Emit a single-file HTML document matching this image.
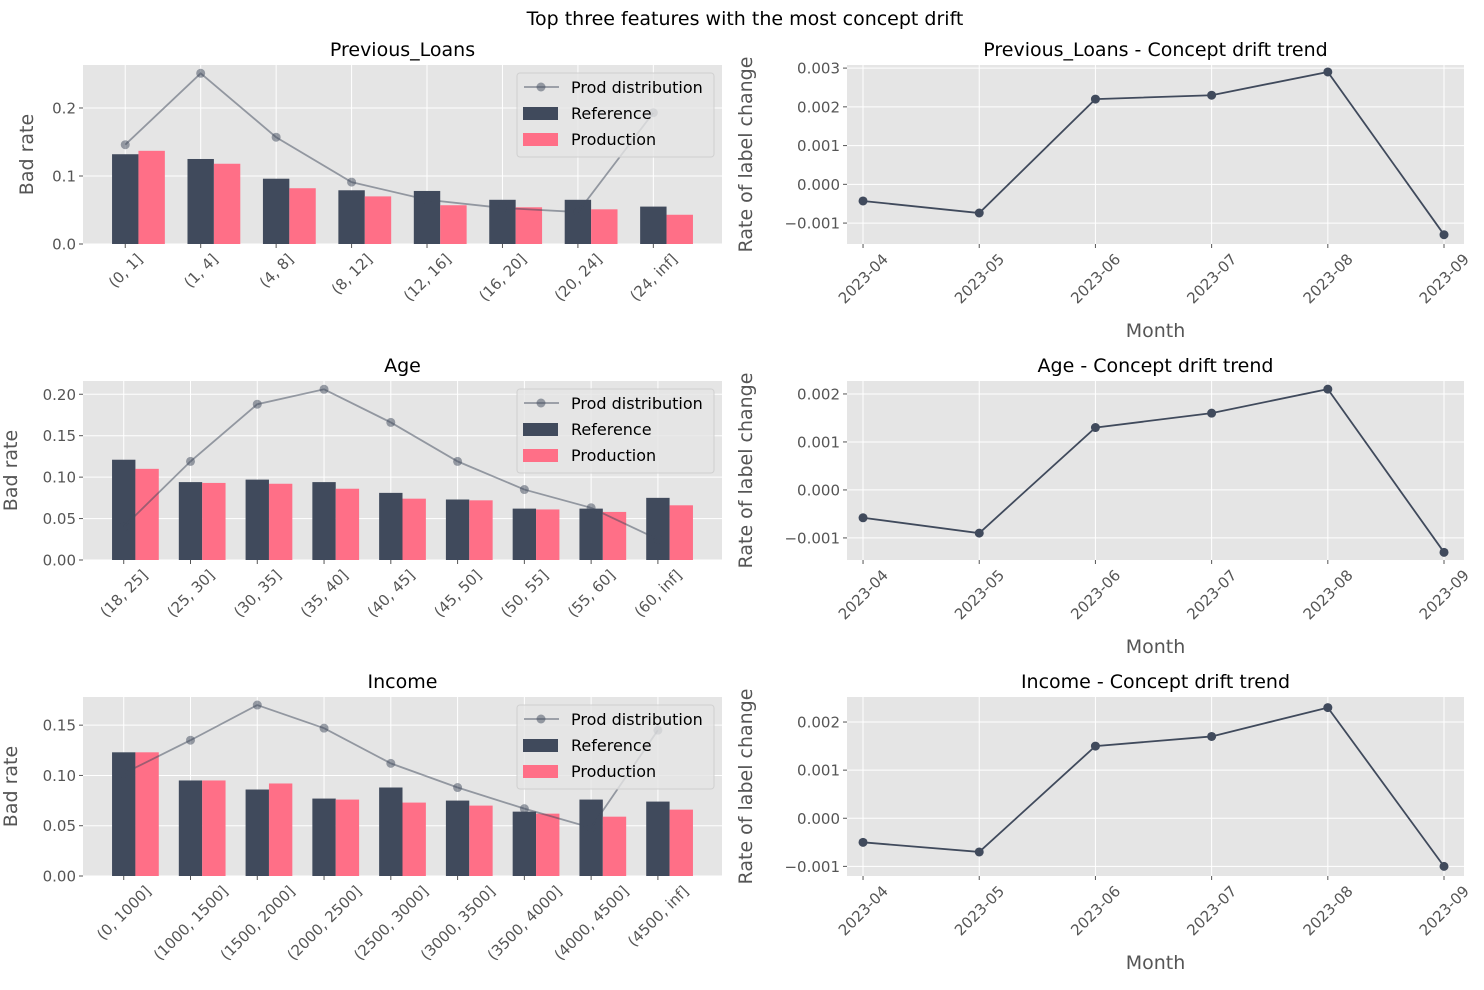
<!DOCTYPE html>
<html><head><meta charset="utf-8"><style>
body{margin:0;background:#fff;font-family:"Liberation Sans","DejaVu Sans",sans-serif}
svg text{font-family:"DejaVu Sans","Liberation Sans",sans-serif}
</style></head><body>
<svg id="fig" width="1484" height="985" viewBox="0 0 1484 985" xmlns="http://www.w3.org/2000/svg">
<text x="745" y="25" font-size="19" text-anchor="middle" fill="#000">Top three features with the most concept drift</text>
</svg>
<script>
const loanCats=["(0, 1]","(1, 4]","(4, 8]","(8, 12]","(12, 16]","(16, 20]","(20, 24]","(24, inf]"];
const loanRef=[0.132,0.125,0.096,0.079,0.078,0.065,0.065,0.055];
const loanProd=[0.137,0.118,0.082,0.070,0.057,0.054,0.051,0.043];
const loanDist=[0.146,0.251,0.157,0.091,0.065,0.053,0.047,0.193];
const loanTicks=[0.0,0.1,0.2];
const ageCats=["(18, 25]","(25, 30]","(30, 35]","(35, 40]","(40, 45]","(45, 50]","(50, 55]","(55, 60]","(60, inf]"];
const ageRef=[0.121,0.094,0.097,0.094,0.081,0.073,0.062,0.062,0.075];
const ageProd=[0.110,0.093,0.092,0.086,0.074,0.072,0.061,0.058,0.066];
const ageDist=[0.040,0.119,0.188,0.206,0.166,0.119,0.085,0.063,0.025];
const ageTicks=[0.00,0.05,0.10,0.15,0.20];
const incCats=["(0, 1000]","(1000, 1500]","(1500, 2000]","(2000, 2500]","(2500, 3000]","(3000, 3500]","(3500, 4000]","(4000, 4500]","(4500, inf]"];
const incRef=[0.123,0.095,0.086,0.077,0.088,0.075,0.064,0.076,0.074];
const incProd=[0.123,0.095,0.092,0.076,0.073,0.070,0.062,0.059,0.066];
const incDist=[0.102,0.135,0.170,0.147,0.112,0.088,0.067,0.048,0.145];
const incTicks=[0.00,0.05,0.10,0.15];
const months=["2023-04","2023-05","2023-06","2023-07","2023-08","2023-09"];
const loanDrift=[-0.00043,-0.00074,0.0022,0.0023,0.0029,-0.0013];
const ageDrift=[-0.00058,-0.0009,0.0013,0.0016,0.0021,-0.0013];
const incDrift=[-0.0005,-0.0007,0.0015,0.0017,0.0023,-0.001];
const driftTicks1=[-0.001,0.000,0.001,0.002,0.003];
const driftTicks2=[-0.001,0.000,0.001,0.002];
const driftTicks3=[-0.001,0.000,0.001,0.002];

const NS="http://www.w3.org/2000/svg";
const svg=document.getElementById('fig');
function mk(tag,attrs,parent){const e=document.createElementNS(NS,tag);for(const k in attrs)e.setAttribute(k,attrs[k]);(parent||svg).appendChild(e);return e;}
function txt(s,attrs,parent){const e=mk('text',attrs,parent);e.textContent=s;return e;}
const TF=15;
function rotLabel(s,cx,B,g){
  const t=txt(s,{x:0,y:0,'font-size':TF,fill:'#555','text-anchor':'middle'},g);
  const w=t.getComputedTextLength();
  const h=TF*1.0;
  const cy=B+7+(w+h)*0.7071/2;
  t.setAttribute('transform',`translate(${cx} ${cy}) rotate(-45)`);
  t.setAttribute('y',TF*0.36);
  return t;
}

function barChart(name,title,cats,ref,prod,dist,ticks,top,ymax,dec){
  const L=83,R=722,B=top+179;
  const n=cats.length;
  const lo=-0.175-0.05*(n-1+0.7), xmax=n-1+0.525+0.05*(n-1+0.7);
  const x=v=>L+(v-lo)/(xmax-lo)*(R-L);
  const y=v=>B-v/ymax*(B-top);
  const g=mk('g',{},svg);
  
  
  mk('rect',{x:L,y:top,width:R-L,height:B-top,fill:'#e5e5e5'},g);
  ticks.forEach(t=>{mk('line',{x1:L,x2:R,y1:y(t),y2:y(t),stroke:'#fff','stroke-width':1},g);
    mk('line',{x1:L-4,x2:L,y1:y(t),y2:y(t),stroke:'#555'},g);
    const tl=txt(t.toFixed(dec),{x:L-7,y:y(t)+5.5,'font-size':TF,fill:'#555','text-anchor':'end'},g);
    
    });
  cats.forEach((c,i)=>{mk('line',{x1:x(i),x2:x(i),y1:top,y2:B,stroke:'#fff'},g);
    mk('line',{x1:x(i),x2:x(i),y1:B,y2:B+4,stroke:'#555'},g);
    const tl=rotLabel(c,x(i),B,g);
    
    });
  const w=0.35*(x(1)-x(0));
  ref.forEach((v,i)=>{const r=mk('rect',{x:x(i)-w/2,y:y(v),width:w,height:B-y(v),fill:'#404a5c'},g);
    
    });
  prod.forEach((v,i)=>{const r=mk('rect',{x:x(i)+w/2,y:y(v),width:w,height:B-y(v),fill:'#ff6f87'},g);
    
    });
  const pts=dist.map((v,i)=>x(i)+','+y(v)).join(' ');
  const pl=mk('polyline',{points:pts,fill:'none',stroke:'#404a5c','stroke-opacity':0.5,'stroke-width':1.8},g);
  
  
  dist.forEach((v,i)=>{const c=mk('circle',{cx:x(i),cy:y(v),r:4.5,fill:'#404a5c','fill-opacity':0.5},g);
    
    });
  const lg=mk('g',{},g);
  
  
  const lx=517,ly=top+8;
  mk('rect',{x:lx,y:ly,width:197,height:84,rx:3,fill:'#e5e5e5','fill-opacity':0.8,stroke:'#d0d0d0'},lg);
  mk('line',{x1:lx+7,x2:lx+42,y1:ly+14,y2:ly+14,stroke:'#404a5c','stroke-opacity':0.5,'stroke-width':1.8},lg);
  mk('circle',{cx:lx+24,cy:ly+14,r:4.5,fill:'#404a5c','fill-opacity':0.5},lg);
  txt('Prod distribution',{x:lx+54,y:ly+20,'font-size':16,fill:'#000'},lg);
  mk('rect',{x:lx+6,y:ly+34,width:35,height:13,fill:'#404a5c'},lg);
  txt('Reference',{x:lx+54,y:ly+46,'font-size':16,fill:'#000'},lg);
  mk('rect',{x:lx+6,y:ly+60,width:35,height:13,fill:'#ff6f87'},lg);
  txt('Production',{x:lx+54,y:ly+72,'font-size':16,fill:'#000'},lg);
  const t=txt(title,{x:(L+R)/2,y:top-9,'font-size':19,fill:'#000','text-anchor':'middle'},g);
  
  
  const yl=txt('Bad rate',{x:0,y:0,'font-size':19,fill:'#555','text-anchor':'middle',transform:`translate(${L-(dec==1?50:66)} ${(top+B)/2}) rotate(-90)`},g);
  
  
}

function lineChart(name,title,vals,ticks,top,ymin,ymax){
  const L=847,R=1464,B=top+179;
  const lo=-0.138,hi=5.172;
  const x=v=>L+(v-lo)/(hi-lo)*(R-L);
  const y=v=>B-(v-ymin)/(ymax-ymin)*(B-top);
  const g=mk('g',{},svg);
  
  
  mk('rect',{x:L,y:top,width:R-L,height:B-top,fill:'#e5e5e5'},g);
  ticks.forEach(t=>{mk('line',{x1:L,x2:R,y1:y(t),y2:y(t),stroke:'#fff'},g);
    mk('line',{x1:L-4,x2:L,y1:y(t),y2:y(t),stroke:'#555'},g);
    const tl=txt(t.toFixed(3).replace('-','\u2212'),{x:L-7,y:y(t)+5.5,'font-size':TF,fill:'#555','text-anchor':'end'},g);
    
    });
  months.forEach((m,i)=>{mk('line',{x1:x(i),x2:x(i),y1:top,y2:B,stroke:'#fff'},g);
    mk('line',{x1:x(i),x2:x(i),y1:B,y2:B+4,stroke:'#555'},g);
    const tl=rotLabel(m,x(i),B,g);
    
    });
  const pl=mk('polyline',{points:vals.map((v,i)=>x(i)+','+y(v)).join(' '),fill:'none',stroke:'#404a5c','stroke-width':1.8},g);
  
  
  vals.forEach((v,i)=>{const c=mk('circle',{cx:x(i),cy:y(v),r:4.5,fill:'#404a5c'},g);
    
    });
  const t=txt(title,{x:(L+R)/2,y:top-9,'font-size':19,fill:'#000','text-anchor':'middle'},g);
  
  
  const yl=txt('Rate of label change',{x:0,y:0,'font-size':19,fill:'#555','text-anchor':'middle',transform:`translate(${L-95} ${(top+B)/2}) rotate(-90)`},g);
  
  
  const xl=txt('Month',{x:(L+R)/2,y:B+93,'font-size':19,fill:'#555','text-anchor':'middle'},g);
  
  
}

barChart('previous-loans','Previous_Loans',loanCats,loanRef,loanProd,loanDist,loanTicks,65,0.2632,1);
barChart('age','Age',ageCats,ageRef,ageProd,ageDist,ageTicks,381,0.216,2);
barChart('income','Income',incCats,incRef,incProd,incDist,incTicks,697,0.178,2);
lineChart('previous-loans','Previous_Loans - Concept drift trend',loanDrift,driftTicks1,65,-0.00154,0.00308);
lineChart('age','Age - Concept drift trend',ageDrift,driftTicks2,381,-0.00146,0.00227);
lineChart('income','Income - Concept drift trend',incDrift,driftTicks3,697,-0.0012,0.00252);
</script>
</body></html>
